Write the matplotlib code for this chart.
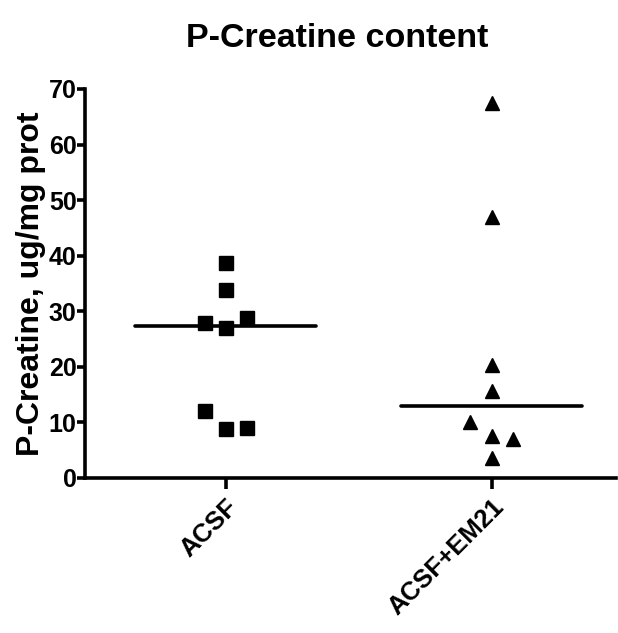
import numpy as np
import matplotlib
matplotlib.use("Agg")
import matplotlib.pyplot as plt

plt.rcParams['font.family'] = ['Liberation Sans', 'DejaVu Sans']
plt.rcParams['font.weight'] = 'bold'

groups = ['ACSF', 'ACSF+EM21']
acsf = [38.6, 33.8, 27.8, 26.9, 28.7, 12.1, 8.8, 9.0]
acsf_off = [0, 0, -0.08, 0, 0.08, -0.08, 0, 0.08]
em21 = [67.4, 46.9, 20.3, 15.7, 10.1, 7.6, 7.0, 3.6]
em21_off = [0, 0, 0, 0, -0.08, 0, 0.08, 0]

fig = plt.figure(figsize=(6.18, 6.33), dpi=100)
ax = fig.add_axes([0.1375, 0.2449, 0.86, 0.6145])

ax.plot(np.array(acsf_off) + 0, acsf, 's', color='black', ms=10.5, clip_on=False)
ax.plot(np.array(em21_off) + 1, em21, '^', color='black', ms=10, clip_on=False)

# median lines
for i, vals in enumerate([acsf, em21]):
    med = np.median(vals)
    ax.plot([i - 0.34, i + 0.34], [med, med], color='black', lw=2.6, solid_capstyle='round')

ax.set_xlim(-0.53, 1.47)
ax.set_ylim(0, 70)
ax.set_yticks(np.arange(0, 71, 10))
ax.set_xticks([0, 1])
ax.set_xticklabels(groups, rotation=45, ha='right', rotation_mode='anchor',
                   fontsize=18.5, fontweight='bold')
for lab in ax.get_yticklabels():
    lab.set_fontsize(18)
    lab.set_fontweight('bold')

for s in ['top', 'right']:
    ax.spines[s].set_visible(False)
for s in ['left', 'bottom']:
    ax.spines[s].set_linewidth(2.6)
ax.tick_params(axis='y', length=6, width=2.6, pad=0)
ax.tick_params(axis='x', length=8, width=2.6, pad=4)

ax.set_ylabel('P-Creatine, ug/mg prot', fontsize=23, fontweight='bold', labelpad=2)
ax.set_title('P-Creatine content', fontsize=24.5, fontweight='bold', pad=30, x=0.475)

fig.savefig('out.png', dpi=100)
